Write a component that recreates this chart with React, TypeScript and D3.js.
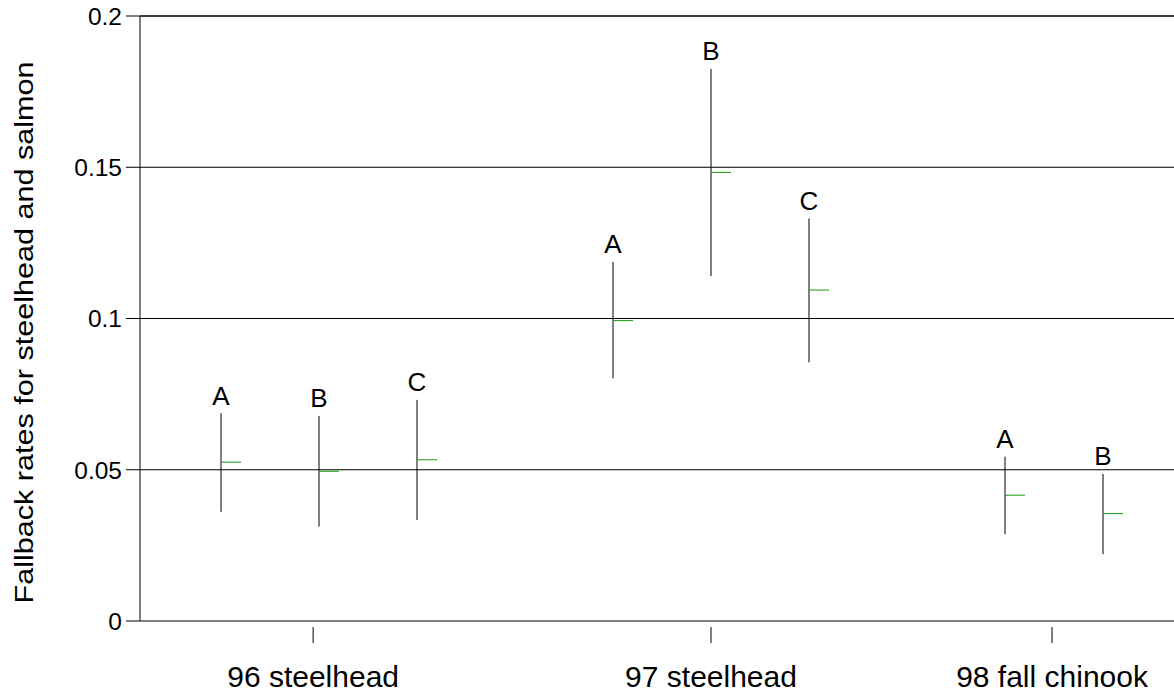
import React from "react";
import * as d3 from "d3";

const categories = ["96 steelhead", "97 steelhead", "98 fall chinook"];
const categoryTickPos = [0.94, 5.0, 8.48];

const seriesLetters = ["A", "B", "C", "A", "B", "C", "A", "B"];
const seriesPos = [0, 1, 2, 4, 5, 6, 8, 9];
const seriesMean = [0.0525, 0.0495, 0.0533, 0.0993, 0.1483, 0.1094, 0.0416, 0.0355];
const seriesLower = [0.0361, 0.0312, 0.0334, 0.0802, 0.114, 0.0855, 0.0287, 0.0221];
const seriesUpper = [0.0687, 0.0678, 0.0731, 0.1187, 0.1825, 0.1331, 0.0543, 0.0486];

const yTicks = [0, 0.05, 0.1, 0.15, 0.2];
const yTickLabels = ["0", "0.05", "0.1", "0.15", "0.2"];
const yLabel = "Fallback rates for steelhead and salmon";

const W = 1174;
const H = 694;
const left = 140;
const right = 1174;
const top = 16;
const bottom = 621;
const font = "Liberation Sans, Arial, Helvetica, sans-serif";

export default function App() {
  const x = d3.scaleLinear().domain([0, 9]).range([221, 1103]);
  const y = d3.scaleLinear().domain([0, 0.2]).range([bottom, top]);

  return (
    <svg
      width={W}
      height={H}
      style={{ position: "absolute", left: 0, top: 0, background: "#fff" }}
      fontFamily={font}
    >
      {yTicks.map((t, i) => (
        <g key={"yt" + i}>
          <line x1={126} x2={left} y1={y(t)} y2={y(t)} stroke="#000" strokeWidth={1} />
          {t > 0 && (
            <line x1={left} x2={right} y1={y(t)} y2={y(t)} stroke="#000" strokeWidth={t === 0.2 ? 1.5 : 1} />
          )}
          <text x={122} y={y(t)} dy="0.36em" textAnchor="end" fontSize={24.5} fill="#000">
            {yTickLabels[i]}
          </text>
        </g>
      ))}
      <line x1={left} x2={left} y1={top} y2={bottom} stroke="#000" strokeWidth={1} />
      <line x1={left} x2={right} y1={bottom} y2={bottom} stroke="#000" strokeWidth={1} />

      {categories.map((c, i) => (
        <g key={"c" + i}>
          <line
            x1={x(categoryTickPos[i])}
            x2={x(categoryTickPos[i])}
            y1={627}
            y2={643}
            stroke="#000"
            strokeWidth={1}
          />
          <text x={x(categoryTickPos[i])} y={687} textAnchor="middle" fontSize={30} fill="#000">
            {c}
          </text>
        </g>
      ))}

      <text
        transform={`translate(33,${(top + bottom) / 2 + 14}) rotate(-90)`}
        textAnchor="middle"
        fontSize={26}
        textLength={542}
        lengthAdjust="spacingAndGlyphs"
        fill="#000"
      >
        {yLabel}
      </text>

      {seriesPos.map((p, i) => (
        <g key={"s" + i}>
          <line
            x1={x(p)}
            x2={x(p)}
            y1={y(seriesUpper[i])}
            y2={y(seriesLower[i])}
            stroke="#000"
            strokeWidth={1}
          />
          <line
            x1={x(p)}
            x2={x(p) + 20}
            y1={y(seriesMean[i])}
            y2={y(seriesMean[i])}
            stroke="#109a10"
            strokeWidth={1}
          />
          <text x={x(p)} y={y(seriesUpper[i]) - 8.5} textAnchor="middle" fontSize={26} fill="#000">
            {seriesLetters[i]}
          </text>
        </g>
      ))}
    </svg>
  );
}
